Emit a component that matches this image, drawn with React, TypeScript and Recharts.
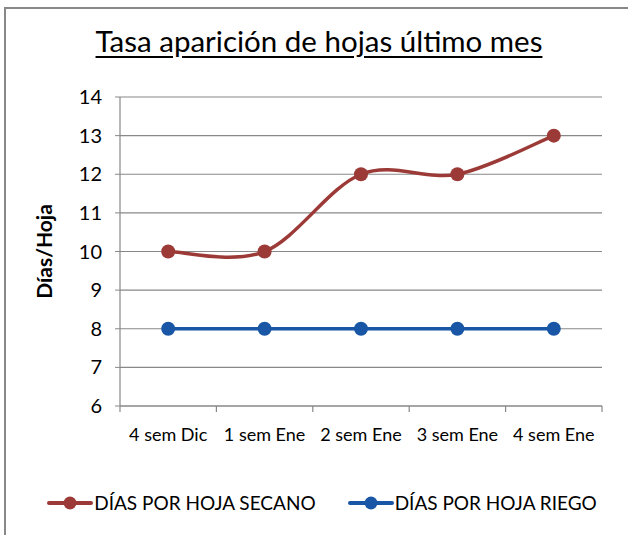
import React from "react";
import { LineChart, Line, XAxis, YAxis, CartesianGrid } from "recharts";

const categories = ["4 sem Dic", "1 sem Ene", "2 sem Ene", "3 sem Ene", "4 sem Ene"];
const secano = [10, 10, 12, 12, 13];
const riego = [8, 8, 8, 8, 8];
const yTicks = [6, 7, 8, 9, 10, 11, 12, 13, 14];

const data = categories.map((c, i) => ({ name: c, secano: secano[i], riego: riego[i] }));

const FONT = "Lato, 'Liberation Sans', sans-serif";
const RED = "#9C3A37";
const BLUE = "#1957A6";

const PLOT_LEFT = 120;
const PLOT_RIGHT = 602;
const BAND = (PLOT_RIGHT - PLOT_LEFT) / categories.length;

// Excel-like smoothed line (Catmull-Rom style bezier)
function excelCurve(context: any) {
  let pts: number[][] = [];
  return {
    areaStart() {},
    areaEnd() {},
    lineStart() {
      pts = [];
    },
    point(x: number, y: number) {
      pts.push([+x, +y]);
    },
    lineEnd() {
      if (!pts.length) return;
      context.moveTo(pts[0][0], pts[0][1]);
      for (let i = 0; i < pts.length - 1; i++) {
        const p0 = pts[i - 1] || pts[i];
        const p1 = pts[i];
        const p2 = pts[i + 1];
        const p3 = pts[i + 2] || pts[i + 1];
        context.bezierCurveTo(
          p1[0] + (p2[0] - p0[0]) / 6,
          p1[1] + (p2[1] - p0[1]) / 6,
          p2[0] - (p3[0] - p1[0]) / 6,
          p2[1] - (p3[1] - p1[1]) / 6,
          p2[0],
          p2[1]
        );
      }
    },
  };
}

// category label centred, tick marks on the band boundaries like Excel
function XTick(props: any) {
  const { x, y, payload, index } = props;
  const left = x - BAND / 2;
  return (
    <g>
      <line x1={left} y1={y - 8} x2={left} y2={y - 2} stroke="#888" strokeWidth={1.2} />
      {index === categories.length - 1 && (
        <line x1={left + BAND} y1={y - 8} x2={left + BAND} y2={y - 2} stroke="#888" strokeWidth={1.2} />
      )}
      <text x={x} y={y + 27} textAnchor="middle" fill="#000" fontSize={18} fontFamily={FONT}>
        {payload.value}
      </text>
    </g>
  );
}

const legendItems = [
  { label: "DÍAS POR HOJA SECANO", color: RED },
  { label: "DÍAS POR HOJA RIEGO", color: BLUE },
];

export default function App() {
  return (
    <div
      style={{
        position: "absolute",
        left: 0,
        top: 0,
        width: 628,
        height: 535,
        overflow: "hidden",
        background: "#fff",
        fontFamily: FONT,
      }}
    >
      <div
        style={{
          position: "absolute",
          left: 4,
          top: 7,
          width: 700,
          height: 600,
          border: "2px solid #888",
        }}
      />
      <div
        style={{
          position: "absolute",
          top: 23,
          left: 0,
          width: 638,
          textAlign: "center",
          fontSize: 29.5,
          textDecoration: "underline",
          textUnderlineOffset: 4,
          color: "#000",
        }}
      >
        Tasa aparición de hojas último mes
      </div>
      <div style={{ position: "absolute", left: 0, top: 0 }}>
        <LineChart width={628} height={535} data={data} margin={{ top: 97, right: 628 - PLOT_RIGHT, left: 30, bottom: 0 }}>
          <CartesianGrid vertical={false} stroke="#888" strokeWidth={1.2} />
          <XAxis
            dataKey="name"
            scale="band"
            interval={0}
            axisLine={{ stroke: "#888", strokeWidth: 1.2 }}
            tickLine={false}
            tick={<XTick />}
            height={129}
          />
          <YAxis
            domain={[6, 14]}
            ticks={yTicks}
            interval={0}
            width={PLOT_LEFT - 30}
            axisLine={{ stroke: "#888", strokeWidth: 1.2 }}
            tickLine={{ stroke: "#888" }}
            tickSize={5}
            tick={{ fill: "#000", fontSize: 20, fontFamily: FONT, dx: -11 }}
            label={{
              value: "Días/Hoja",
              angle: -90,
              position: "insideLeft",
              dx: 10,
              style: { fontWeight: "bold", fontSize: 21, fill: "#000", fontFamily: FONT, textAnchor: "middle" },
            }}
          />
          <Line
            dataKey="secano"
            type={excelCurve as any}
            stroke={RED}
            strokeWidth={3.5}
            dot={{ r: 7, fill: RED, stroke: RED, strokeWidth: 0 }}
            activeDot={false}
            isAnimationActive={false}
          />
          <Line
            dataKey="riego"
            type="linear"
            stroke={BLUE}
            strokeWidth={3.5}
            dot={{ r: 7, fill: BLUE, stroke: BLUE, strokeWidth: 0 }}
            activeDot={false}
            isAnimationActive={false}
          />
        </LineChart>
      </div>
      <div
        style={{
          position: "absolute",
          top: 491,
          left: 0,
          width: 644,
          display: "flex",
          justifyContent: "center",
          gap: 32,
          fontSize: 19,
          color: "#000",
        }}
      >
        {legendItems.map((it) => (
          <div key={it.label} style={{ display: "flex", alignItems: "center" }}>
            <svg width={46} height={20}>
              <line x1={2} y1={10} x2={44} y2={10} stroke={it.color} strokeWidth={4} strokeLinecap="round" />
              <circle cx={23} cy={10} r={6.5} fill={it.color} />
            </svg>
            <span style={{ marginLeft: 1 }}>{it.label}</span>
          </div>
        ))}
      </div>
    </div>
  );
}
